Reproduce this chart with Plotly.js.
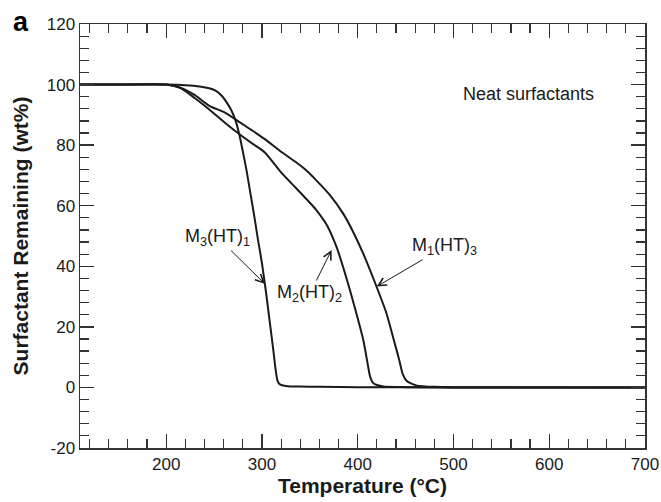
<!DOCTYPE html>
<html>
<head>
<meta charset="utf-8">
<script src="https://cdn.plot.ly/plotly-3.0.1.min.js"></script>
<style>html,body{margin:0;padding:0;background:#fff;}#chart{width:661px;height:502px;}</style>
</head>
<body>
<div id="chart"></div>
<script>
// Temperature (°C) and surfactant remaining (wt%) for each neat surfactant
const m3ht1_T = [110,150,200,220,235,245,252,258,263,268,272,276,280,284,288,292,296,300,304,308,312,314,316,318,321,327,340,360,400,500,600,700];
const m3ht1_W = [100,100,100,99.8,99.4,98.8,97.9,96.3,94.2,91.5,88.5,84,78,71.5,64,56.5,48.5,41,32,22,12,6.5,2.5,1.2,0.7,0.4,0.3,0.2,0.1,0,0,0];

const m2ht2_T = [110,150,200,215,230,245,261,277,290,303,320,335,347,357,368,378,385,392,399,406,410,413,416,420,427,450,500,700];
const m2ht2_W = [100,100,100,98.8,95.5,91.8,87.5,83.5,80.5,77.6,71,66,62,58.5,53.5,46.3,39.5,32,24,15.4,8.5,3.5,1.5,0.8,0.3,0.1,0,0];

const m1ht3_T = [110,150,200,215,230,245,261,277,290,303,320,335,345,357,371,385,395,406,420,430,437,443,447,451,455,462,480,500,700];
const m1ht3_W = [100,100,100,99,96.5,93,90.8,87.5,84.8,82,77.8,74.5,72,68.3,63.5,57.3,51.5,44,33,24.5,16.5,9.5,4.4,2.2,1.4,0.6,0.2,0.1,0];

const seriesNames = ["M<sub>3</sub>(HT)<sub>1</sub>", "M<sub>2</sub>(HT)<sub>2</sub>", "M<sub>1</sub>(HT)<sub>3</sub>"];
// label text centre and arrow head (data units)
const labelT     = [254, 350, 491];
const labelW     = [49.5, 31, 46.5];
const arrowHeadT = [303, 372.8, 419.8];
const arrowHeadW = [34.2, 45.4, 33.3];

const xTickVals = [200, 300, 400, 500, 600, 700];
const xTickText = ['200', '300', '400', '500', '600', '700'];
const yTickVals = [-20, 0, 20, 40, 60, 80, 100, 120];
const yTickText = ['-20', '0', '20', '40', '60', '80', '100', '120'];

const xRange = [110, 700];
const yRange = [-20, 120];

const ink = '#1a1a1a';
const fam = 'Liberation Sans, Arial, sans-serif';
const lineStyle = {color: ink, width: 2, shape: 'spline', smoothing: 0.6};

const traces = [
  {x: m3ht1_T, y: m3ht1_W, mode: 'lines', line: lineStyle, name: 'M3(HT)1'},
  {x: m2ht2_T, y: m2ht2_W, mode: 'lines', line: lineStyle, name: 'M2(HT)2'},
  {x: m1ht3_T, y: m1ht3_W, mode: 'lines', line: lineStyle, name: 'M1(HT)3'}
];

const annFont = {family: fam, size: 18, color: ink};
const annotations = [];
for (let i = 0; i < 3; i++) {
  annotations.push({
    x: arrowHeadT[i], y: arrowHeadW[i], xref: 'x', yref: 'y',
    ax: labelT[i], ay: labelW[i], axref: 'x', ayref: 'y',
    text: seriesNames[i], font: annFont,
    showarrow: true, arrowhead: 5, arrowsize: 1.6, arrowwidth: 1, arrowcolor: ink
  });
}
annotations.push({x: 578, y: 97, xref: 'x', yref: 'y', text: 'Neat surfactants', showarrow: false,
  font: annFont, xanchor: 'center', yanchor: 'middle'});
annotations.push({x: -0.122, y: 1.004, xref: 'paper', yref: 'paper', text: '<b>a</b>', showarrow: false,
  font: {family: fam, size: 27, color: '#000'}, xanchor: 'left', yanchor: 'middle'});

const axisCommon = {
  showgrid: false, zeroline: false, showline: true, linecolor: '#333', linewidth: 1.5,
  mirror: 'ticks', ticks: 'inside', ticklen: 14, tickwidth: 1.3, tickcolor: '#333',
  tickfont: {family: fam, size: 17, color: ink}
};

const layout = {
  width: 661, height: 502,
  margin: {l: 80, r: 16, t: 24, b: 54},
  paper_bgcolor: '#fff', plot_bgcolor: '#fff',
  showlegend: false,
  font: {family: fam, color: ink},
  xaxis: Object.assign({}, axisCommon, {
    range: xRange, tickmode: 'array', tickvals: xTickVals, ticktext: xTickText,
    minor: {tickmode: 'linear', tick0: 0, dtick: 20, ticklen: 9, tickwidth: 1.2, tickcolor: '#333', ticks: 'inside'},
    title: {text: '<b>Temperature (°C)</b>', font: {size: 21, color: ink}, standoff: 5}
  }),
  yaxis: Object.assign({}, axisCommon, {
    range: yRange, tickmode: 'array', tickvals: yTickVals, ticktext: yTickText,
    minor: {tickmode: 'linear', tick0: 0, dtick: 4, ticklen: 9, tickwidth: 1.2, tickcolor: '#333', ticks: 'inside'},
    title: {text: '<b>Surfactant Remaining (wt%)</b>', font: {size: 21, color: ink}, standoff: 12}
  }),
  annotations: annotations
};

Plotly.newPlot('chart', traces, layout, {displayModeBar: false, staticPlot: true});
</script>
</body>
</html>
